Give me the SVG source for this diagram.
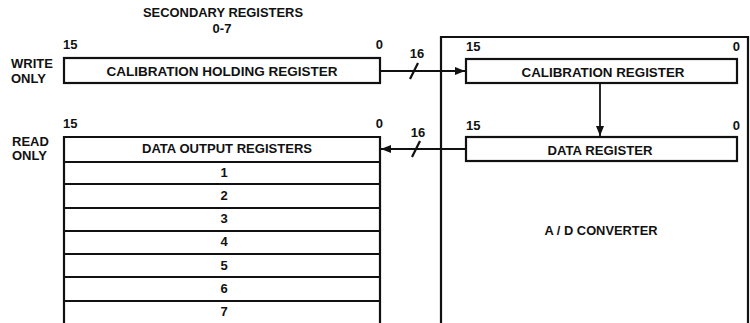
<svg xmlns="http://www.w3.org/2000/svg" width="750" height="323" viewBox="0 0 750 323">
<defs>
<style>
text{font-family:"Liberation Sans",Arial,sans-serif;font-weight:bold;font-size:13px;fill:#111}
.c{text-anchor:middle}
.e{text-anchor:end}
.box{fill:#fff;stroke:#111;stroke-width:2.2}
.ln{stroke:#111;stroke-width:1.8;fill:none}
.w{stroke:#111;stroke-width:2.2;fill:none}
</style>
<marker id="ah" viewBox="0 0 10 8" refX="10" refY="4" markerWidth="10" markerHeight="8" markerUnits="userSpaceOnUse" orient="auto">
<path d="M0,0 L10,4 L0,8 Z" fill="#111"/>
</marker>
</defs>
<rect width="750" height="323" fill="#fff"/>
<g id="title">
<text class="c" x="223" y="17" textLength="160" lengthAdjust="spacingAndGlyphs">SECONDARY REGISTERS</text>
<text class="c" x="222" y="33">0-7</text>
</g>
<g id="write-only">
<text x="11" y="68">WRITE</text>
<text x="11" y="83">ONLY</text>
</g>
<g id="read-only">
<text x="12" y="146">READ</text>
<text x="12" y="160">ONLY</text>
</g>
<g id="cal-holding">
<text x="63" y="49">15</text>
<text x="383" y="49" class="e">0</text>
<rect class="box" x="64" y="58" width="316" height="25"/>
<text class="c" x="222" y="76" textLength="231" lengthAdjust="spacingAndGlyphs">CALIBRATION HOLDING REGISTER</text>
</g>
<g id="data-output">
<text x="63" y="128">15</text>
<text x="383" y="128" class="e">0</text>
<path class="w" d="M64,323 V137 H380 V323"/>
<path class="ln" d="M64,162 H380 M64,184 H380 M64,208 H380 M64,231 H380 M64,254 H380 M64,277 H380 M64,301 H380"/>
<text class="c" x="227" y="153" textLength="170" lengthAdjust="spacingAndGlyphs">DATA OUTPUT REGISTERS</text>
<text class="c" x="224" y="177">1</text>
<text class="c" x="224" y="200">2</text>
<text class="c" x="224" y="223">3</text>
<text class="c" x="224" y="246">4</text>
<text class="c" x="224" y="270">5</text>
<text class="c" x="224" y="293">6</text>
<text class="c" x="224" y="316">7</text>
</g>
<g id="ad-converter">
<path class="w" d="M441,323 V37 H748 V323"/>
<text class="c" x="601" y="235" textLength="113" lengthAdjust="spacingAndGlyphs">A / D CONVERTER</text>
</g>
<g id="cal-register">
<text x="466" y="51">15</text>
<text x="740" y="51" class="e">0</text>
<rect class="box" x="466" y="59" width="271" height="24"/>
<text class="c" x="603" y="77" textLength="163" lengthAdjust="spacingAndGlyphs">CALIBRATION REGISTER</text>
</g>
<g id="data-register">
<text x="466" y="130">15</text>
<text x="740" y="130" class="e">0</text>
<rect class="box" x="466" y="137" width="271" height="24"/>
<text class="c" x="600" y="155" textLength="105" lengthAdjust="spacingAndGlyphs">DATA REGISTER</text>
</g>
<g id="connectors">
<line class="ln" x1="381" y1="71" x2="465" y2="71" marker-end="url(#ah)"/>
<line class="w" x1="410" y1="79" x2="418" y2="63"/>
<text class="c" x="417" y="58">16</text>
<line class="ln" x1="465" y1="149" x2="381" y2="149" marker-end="url(#ah)"/>
<line class="w" x1="412" y1="157" x2="420" y2="141"/>
<text class="c" x="418" y="137">16</text>
<line class="ln" x1="600" y1="84" x2="600" y2="136" marker-end="url(#ah)"/>
</g>
</svg>
